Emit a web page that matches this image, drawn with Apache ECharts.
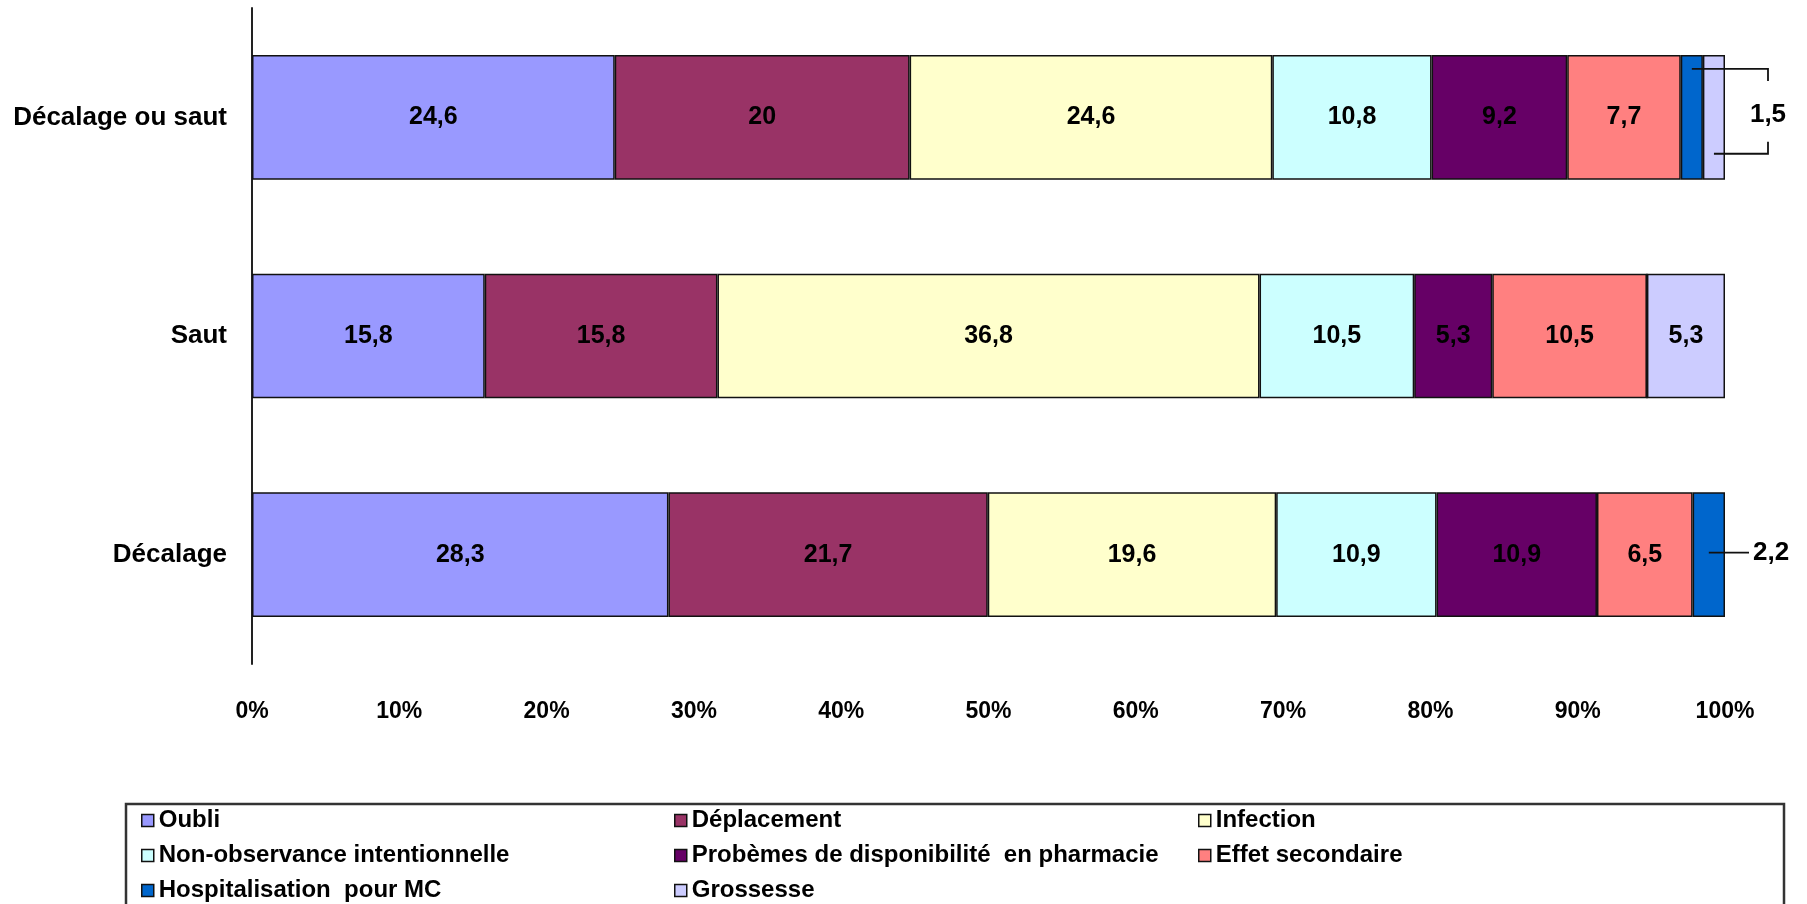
<!DOCTYPE html>
<html>
<head>
<meta charset="utf-8">
<script src="https://cdn.jsdelivr.net/npm/echarts@6/dist/echarts.min.js"></script>
<style>html,body{margin:0;padding:0;background:#fff;}#c{width:1807px;height:904px;}</style>
</head>
<body>
<div id="c"></div>
<script>
var categories = ['Décalage ou saut', 'Saut', 'Décalage'];
var seriesNames = ['Oubli', 'Déplacement', 'Infection', 'Non-observance intentionnelle',
  'Probèmes de disponibilité  en pharmacie', 'Effet secondaire', 'Hospitalisation  pour MC', 'Grossesse'];
var oubli        = [24.6, 15.8, 28.3];
var deplacement  = [20,   15.8, 21.7];
var infection    = [24.6, 36.8, 19.6];
var nonObs       = [10.8, 10.5, 10.9];
var probemes     = [9.2,  5.3,  10.9];
var effetSec     = [7.7,  10.5, 6.5];
var hospit       = [1.5,  0,    2.2];
var grossesse    = [1.5,  5.3,  0];
var xTicks = [0, 10, 20, 30, 40, 50, 60, 70, 80, 90, 100];
var colors = ['#9999FF', '#993366', '#FFFFCC', '#CCFFFF', '#660066', '#FF8080', '#0066CC', '#CCCCFF'];

var allValues = [oubli, deplacement, infection, nonObs, probemes, effetSec, hospit, grossesse];
var totals = categories.map(function (c, j) {
  return allValues.reduce(function (s, arr) { return s + arr[j]; }, 0);
});
function fmt(v) { return String(v).replace('.', ','); }

var FONT = "'Liberation Sans', Arial, sans-serif";

var barSeries = allValues.map(function (arr, i) {
  return {
    name: seriesNames[i],
    type: 'bar',
    stack: 'total',
    barWidth: '57%',
    itemStyle: { color: colors[i], borderColor: '#111', borderWidth: 1.5 },
    label: {
      show: true, position: 'inside', color: '#000', fontWeight: 'bold', fontSize: 25, fontFamily: FONT,
      formatter: function (p) { return p.data.raw >= 3 ? fmt(p.data.raw) : ''; }
    },
    emphasis: { disabled: true },
    data: arr.map(function (v, j) { return { value: v / totals[j] * 100, raw: v }; })
  };
});

function cumBefore(k, j) {
  var s = 0;
  for (var i = 0; i < k; i++) s += allValues[i][j];
  return s / totals[j] * 100;
}
// annotations for small segments (hospitalisation / grossesse)
var annBracketCat = 0, annLeaderCat = 2;
var annData = [
  [annBracketCat, cumBefore(6, annBracketCat) + hospit[annBracketCat] / totals[annBracketCat] * 50,
    cumBefore(7, annBracketCat) + grossesse[annBracketCat] / totals[annBracketCat] * 50, hospit[annBracketCat], 1],
  [annLeaderCat, cumBefore(6, annLeaderCat) + hospit[annLeaderCat] / totals[annLeaderCat] * 50,
    cumBefore(6, annLeaderCat) + hospit[annLeaderCat] / totals[annLeaderCat] * 50, hospit[annLeaderCat], 0]
];

var annSeries = {
  type: 'custom',
  name: 'annotations',
  clip: false,
  silent: true,
  z: 10,
  encode: { x: [1, 2], y: 0 },
  data: annData,
  renderItem: function (params, api) {
    var cat = api.value(0), xa = api.value(1), xb = api.value(2), v = api.value(3), kind = api.value(4);
    var band = api.size([0, 1])[1];
    var k = band * 0.57 / 125;
    var pa = api.coord([xa, cat]);
    var pb = api.coord([xb, cat]);
    var right = api.coord([100, cat])[0];
    var cy = pa[1];
    var lineStyle = { stroke: '#111', lineWidth: 1.8, fill: null };
    var textStyle = { fill: '#000', fontSize: 26, fontWeight: 'bold', fontFamily: FONT, verticalAlign: 'middle' };
    if (kind === 1) {
      var bx = right + 43;
      return { type: 'group', children: [
        { type: 'polyline', shape: { points: [[pa[0], cy - 48.5 * k], [bx, cy - 48.5 * k], [bx, cy - 36.5 * k]] }, style: lineStyle },
        { type: 'polyline', shape: { points: [[bx, cy + 24.5 * k], [bx, cy + 36.5 * k], [pb[0], cy + 36.5 * k]] }, style: lineStyle },
        { type: 'text', style: Object.assign({ text: fmt(v), x: bx, y: cy - 3 * k, align: 'center' }, textStyle) }
      ]};
    }
    return { type: 'group', children: [
      { type: 'line', shape: { x1: pa[0], y1: cy - 2, x2: right + 24, y2: cy - 2 }, style: lineStyle },
      { type: 'text', style: Object.assign({ text: fmt(v), x: right + 28, y: cy - 2, align: 'left' }, textStyle) }
    ]};
  }
};

// legend grid: 3 columns x 3 rows
var legendCols = [141, 674, 1198];
var legendTop = 803, legendRow = 35;
var legendOrder = [0, 1, 2, 3, 4, 5, 6, 7];
var legends = legendOrder.map(function (si, n) {
  return {
    orient: 'horizontal',
    left: legendCols[n % 3], top: legendTop + Math.floor(n / 3) * legendRow,
    padding: 0, itemGap: 0,
    icon: 'rect', itemWidth: 12, itemHeight: 12,
    itemStyle: { borderColor: '#111', borderWidth: 1.5 },
    textStyle: { color: '#000', fontWeight: 'bold', fontSize: 24, fontFamily: FONT, lineHeight: legendRow },
    selectedMode: false,
    data: [seriesNames[si]]
  };
});

var chart = echarts.init(document.getElementById('c'));
chart.setOption({
  animation: false,
  backgroundColor: '#fff',
  color: colors,
  grid: { left: 252, right: 82, top: 8, bottom: 240, containLabel: false },
  xAxis: {
    type: 'value', min: xTicks[0], max: xTicks[xTicks.length - 1], interval: xTicks[1] - xTicks[0],
    axisLine: { show: false }, axisTick: { show: false }, splitLine: { show: false },
    axisLabel: { formatter: '{value}%', color: '#000', fontWeight: 'bold', fontSize: 23, fontFamily: FONT, margin: 36 }
  },
  yAxis: {
    type: 'category', data: categories, inverse: true,
    axisLine: { show: true, lineStyle: { color: '#222', width: 2 } },
    axisTick: { show: false },
    axisLabel: { color: '#000', fontWeight: 'bold', fontSize: 26, fontFamily: FONT, margin: 25 }
  },
  legend: legends,
  graphic: [{
    type: 'rect', shape: { x: 126, y: 804, width: 1658, height: 200 },
    style: { fill: null, stroke: '#333', lineWidth: 2.5 }, z: -1
  }],
  series: barSeries.concat([annSeries])
});
</script>
</body>
</html>
